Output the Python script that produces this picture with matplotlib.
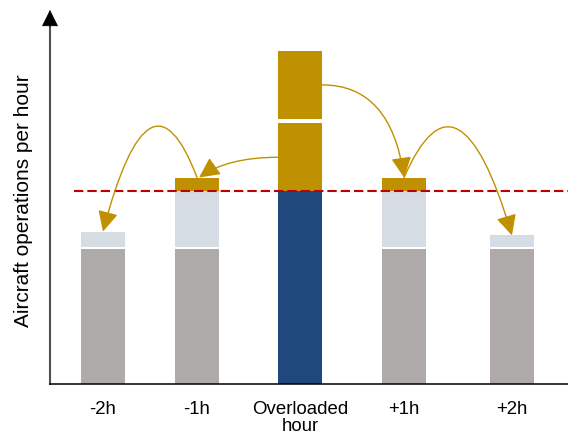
import matplotlib
matplotlib.use('Agg')
import matplotlib.pyplot as plt
from matplotlib.path import Path
from matplotlib.patches import FancyArrowPatch

plt.rcParams['font.family'] = ['Liberation Sans', 'DejaVu Sans']

# Data (schematic, in operations per hour)
hours = ['-2h', '-1h', 'Overloaded\nhour', '+1h', '+2h']
base_ops = [70, 70, 0, 70, 70]          # grey: existing traffic
spare_used = [8, 29, 0, 29, 6]          # light blue: spare capacity taken up
shifted_in = [0, 7, 0, 7, 0]            # gold: flights moved in from the peak
capacity = 100
overload_chunks = [35, 35]              # gold: excess demand in the peak hour

# layout
x_pos = [0, 0.92, 1.93, 2.945, 4.0]
bar_w = 0.43
gap = 1.0

grey = '#AEAAAA'
light = '#D6DCE4'
gold = '#BF9000'
navy = '#1F497D'
red = '#C00000'

fig = plt.figure(figsize=(5.68, 4.37), dpi=100)
ax = fig.add_axes([50/568, 53/437, 518/568, 374/437])

# regular hours
light_bottom = [b + gap if b > 0 else 0 for b in base_ops]
gold_bottom = [lb + s for lb, s in zip(light_bottom, spare_used)]
ax.bar(x_pos, base_ops, width=bar_w, color=grey, zorder=2)
ax.bar(x_pos, spare_used, bottom=light_bottom, width=bar_w, color=light, zorder=2)
ax.bar(x_pos, shifted_in, bottom=gold_bottom, width=bar_w, color=gold, zorder=2)

# overloaded hour
i_ov = 2
ax.bar(x_pos[i_ov], capacity, width=bar_w, color=navy, zorder=2)
ax.bar(x_pos[i_ov], overload_chunks[0], bottom=capacity, width=bar_w, color=gold, zorder=2)
ax.bar(x_pos[i_ov], overload_chunks[1], bottom=capacity + overload_chunks[0] + 2.5,
       width=bar_w, color=gold, zorder=2)

ax.set_xlim(-0.518, 4.548)
ax.set_ylim(0, 193.8)

# capacity line
ax.plot([-0.284, 4.548], [capacity, capacity], color=red, lw=1.5,
        dashes=[4.5, 1.9], zorder=3, solid_capstyle='butt')


def curved_arrow(p0, ctrl, p1):
    path = Path([p0, ctrl, p1], [Path.MOVETO, Path.CURVE3, Path.CURVE3])
    arr = FancyArrowPatch(path=path, arrowstyle='-|>,head_length=12.5,head_width=6.2',
                          color=gold, lw=1.0, zorder=4, mutation_scale=1)
    ax.add_patch(arr)


top = [g + s for g, s in zip(gold_bottom, shifted_in)]
ov_low_mid = capacity + overload_chunks[0] / 2
ov_high_mid = capacity + overload_chunks[0] + 2.5 + overload_chunks[1] / 2

# peak -> -1h
curved_arrow((x_pos[2] - bar_w / 2, ov_low_mid), (x_pos[1] + 0.3, ov_low_mid),
             (x_pos[1] + 0.02, top[1]))
# -1h -> -2h
curved_arrow((x_pos[1], top[1]), ((x_pos[0] + x_pos[1]) / 2, 171.5),
             (x_pos[0], top[0]))
# peak -> +1h
curved_arrow((x_pos[2] + bar_w / 2, ov_high_mid), (x_pos[3] - 0.13, ov_high_mid),
             (x_pos[3], top[3]))
# +1h -> +2h
curved_arrow((x_pos[3], top[3]), ((x_pos[3] + x_pos[4]) / 2, 171.5),
             (x_pos[4], top[4]))

# axes styling
for s in ['top', 'right']:
    ax.spines[s].set_visible(False)
ax.spines['bottom'].set_linewidth(1.1)
ax.spines['bottom'].set_color('black')
ax.spines['left'].set_linewidth(1.5)
ax.spines['left'].set_color('#505050')
ax.spines['left'].set_bounds(0, 186)
ax.annotate('', xy=(0, 1), xytext=(0, 0.955), xycoords='axes fraction',
            arrowprops=dict(arrowstyle='-|>,head_length=10.8,head_width=5.4',
                            color='black', lw=0.5, shrinkA=0, shrinkB=0,
                            mutation_scale=1),
            annotation_clip=False)

ax.set_yticks([])
ax.set_xticks(x_pos)
ax.set_xticklabels(hours, fontsize=13.4, linespacing=1.0)
ax.tick_params(axis='x', length=0, pad=12.5)

fig.text(24/568, 1 - 201/437, 'Aircraft operations per hour', rotation=90,
         ha='center', va='center', fontsize=15)

fig.savefig('out.png', dpi=100)
